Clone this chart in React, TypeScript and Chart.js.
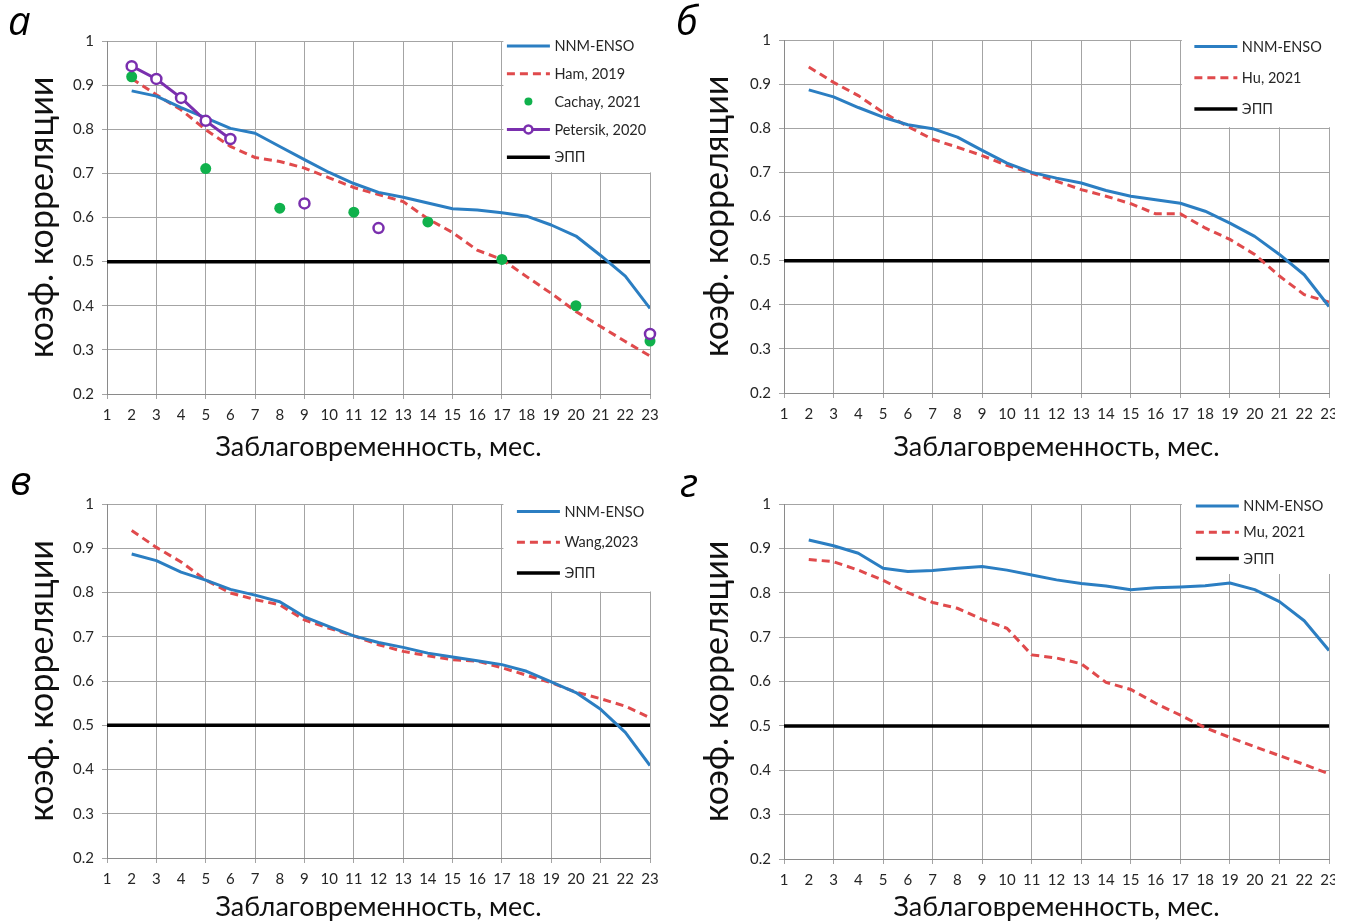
import React, { useEffect, useRef } from "react";
import { Chart, registerables } from "chart.js";

Chart.register(...registerables);

// ---------------- data ----------------
const LEADS = [2, 3, 4, 5, 6, 7, 8, 9, 10, 11, 12, 13, 14, 15, 16, 17, 18, 19, 20, 21, 22, 23];
const X_TICKS = [1, 2, 3, 4, 5, 6, 7, 8, 9, 10, 11, 12, 13, 14, 15, 16, 17, 18, 19, 20, 21, 22, 23];
const Y_TICKS = [0.2, 0.3, 0.4, 0.5, 0.6, 0.7, 0.8, 0.9, 1];
const EPP_LEADS = [1, 23];
const EPP_VALUES = [0.5, 0.5];

// panel а
const nnmEnsoA = [0.887, 0.875, 0.849, 0.826, 0.802, 0.791, 0.761, 0.731, 0.702, 0.677, 0.657, 0.646, 0.633, 0.62, 0.617, 0.611, 0.603, 0.583, 0.558, 0.514, 0.467, 0.394];
const ham2019 = [0.915, 0.878, 0.844, 0.799, 0.761, 0.736, 0.727, 0.712, 0.69, 0.668, 0.652, 0.636, 0.597, 0.566, 0.526, 0.505, 0.466, 0.428, 0.387, 0.353, 0.319, 0.286];
const cachay2021 = [0.919, null, null, 0.711, null, null, 0.621, null, null, 0.612, null, null, 0.59, null, null, 0.505, null, null, 0.4, null, null, 0.32];
const petersik2020 = [0.943, 0.914, 0.871, 0.819, 0.778, null, null, 0.632, null, null, 0.576, null, null, null, null, null, null, null, null, null, null, 0.336];

// panel б
const nnmEnsoB = [0.887, 0.871, 0.847, 0.825, 0.808, 0.799, 0.78, 0.75, 0.721, 0.7, 0.687, 0.676, 0.659, 0.646, 0.638, 0.63, 0.612, 0.585, 0.555, 0.514, 0.468, 0.396];
const hu2021 = [0.939, 0.904, 0.874, 0.836, 0.804, 0.775, 0.757, 0.738, 0.716, 0.698, 0.68, 0.661, 0.646, 0.629, 0.606, 0.606, 0.574, 0.548, 0.514, 0.465, 0.423, 0.406];

// panel в
const nnmEnsoV = [0.887, 0.872, 0.846, 0.828, 0.807, 0.794, 0.779, 0.745, 0.723, 0.702, 0.687, 0.676, 0.663, 0.654, 0.646, 0.637, 0.622, 0.598, 0.574, 0.536, 0.484, 0.409];
const wang2023 = [0.94, 0.902, 0.869, 0.828, 0.799, 0.784, 0.772, 0.738, 0.719, 0.702, 0.682, 0.667, 0.657, 0.648, 0.645, 0.63, 0.613, 0.596, 0.575, 0.56, 0.543, 0.517];

// panel г
const nnmEnsoG = [0.919, 0.906, 0.889, 0.855, 0.848, 0.85, 0.855, 0.859, 0.851, 0.84, 0.829, 0.821, 0.815, 0.807, 0.811, 0.813, 0.816, 0.822, 0.807, 0.78, 0.737, 0.67];
const mu2021 = [0.875, 0.87, 0.851, 0.828, 0.8, 0.778, 0.765, 0.74, 0.72, 0.66, 0.653, 0.64, 0.598, 0.582, 0.551, 0.524, 0.496, 0.474, 0.453, 0.433, 0.413, 0.392];

// ---------------- styling ----------------
const FONT = "Lato, 'Open Sans', sans-serif";
const TEXT = "#262626";
const GRID = "#a4a4a4";
const AXIS = "#8a8a8a";
const BLUE = "#2b7ec2";
const RED = "#e04a4c";
const GREEN = "#10b14c";
const PURPLE = "#7a2fae";

const pts = (xs: number[], ys: (number | null)[]) => xs.map((x, i) => ({ x, y: ys[i] }));

const nnmDs = (vals: number[]) => ({
  label: "NNM-ENSO",
  data: pts(LEADS, vals),
  borderColor: BLUE,
  backgroundColor: BLUE,
  borderWidth: 3,
  pointRadius: 0,
  tension: 0,
  borderJoinStyle: "round",
  order: 2,
});
const dashDs = (label: string, vals: number[]) => ({
  label,
  data: pts(LEADS, vals),
  borderColor: RED,
  backgroundColor: RED,
  borderWidth: 3,
  borderDash: [8, 5],
  pointRadius: 0,
  tension: 0,
  order: 3,
});
const eppDs = () => ({
  label: "ЭПП",
  data: pts(EPP_LEADS, EPP_VALUES),
  borderColor: "#000000",
  backgroundColor: "#000000",
  borderWidth: 3.5,
  pointRadius: 0,
  order: 5,
});

// legend drawn inside the top-right corner of the plot area
const cornerLegend = {
  id: "cornerLegend",
  beforeDatasetsDraw(chart: any, _args: any, opts: any) {
    const { ctx, chartArea, scales } = chart;
    const left = scales.x.getPixelForValue(opts.fromLead) + 1.5;
    const top = chartArea.top - 4;
    const bottom = scales.y.getPixelForValue(opts.toValue) - 1;
    ctx.save();
    ctx.fillStyle = "#ffffff";
    ctx.fillRect(left, top, chart.width - left, bottom - top);
    ctx.restore();
  },
  afterDatasetsDraw(chart: any, _args: any, opts: any) {
    const { ctx, chartArea, scales } = chart;
    const x0 = scales.x.getPixelForValue(opts.fromLead) + opts.inset;
    const len = 43;
    chart.data.datasets.forEach((ds: any, i: number) => {
      const y = chartArea.top + opts.firstRow + i * opts.rowGap;
      ctx.save();
      if (ds.showLine !== false) {
        ctx.strokeStyle = ds.borderColor;
        ctx.lineWidth = ds.borderWidth;
        ctx.setLineDash(ds.borderDash || []);
        ctx.beginPath();
        ctx.moveTo(x0, y);
        ctx.lineTo(x0 + len, y);
        ctx.stroke();
      }
      if (ds.pointRadius > 0) {
        ctx.setLineDash([]);
        ctx.beginPath();
        ctx.arc(x0 + len / 2, y, 4, 0, Math.PI * 2);
        ctx.fillStyle = ds.pointBackgroundColor;
        ctx.fill();
        if (ds.pointBorderWidth > 0) {
          ctx.lineWidth = ds.pointBorderWidth;
          ctx.strokeStyle = ds.pointBorderColor;
          ctx.stroke();
        }
      }
      ctx.fillStyle = TEXT;
      ctx.font = `14.5px ${FONT}`;
      ctx.textAlign = "left";
      ctx.textBaseline = "middle";
      ctx.fillText(ds.label, x0 + len + 4.5, y + 0.5);
      ctx.restore();
    });
  },
};

type PanelSpec = {
  key: string;
  letter: string;
  x: number;
  y: number;
  w: number;
  h: number;
  left: number;
  right: number;
  top: number;
  bottom: number;
  titleBottomPad: number;
  datasets: any[];
  legend: { fromLead: number; toValue: number; inset: number; firstRow: number; rowGap: number };
};

const PANELS: PanelSpec[] = [
  {
    key: "a",
    letter: "а",
    x: 0, y: 0, w: 675, h: 461,
    left: 107, right: 650, top: 41, bottom: 394,
    titleBottomPad: 0,
    datasets: [
      nnmDs(nnmEnsoA),
      dashDs("Ham, 2019", ham2019),
      {
        label: "Cachay, 2021",
        data: pts(LEADS, cachay2021),
        showLine: false,
        pointRadius: 5.5,
        pointBackgroundColor: GREEN,
        pointBorderColor: GREEN,
        pointBorderWidth: 0,
        borderColor: GREEN,
        backgroundColor: GREEN,
        clip: false,
        order: 1,
      },
      {
        label: "Petersik, 2020",
        data: pts(LEADS, petersik2020),
        borderColor: PURPLE,
        backgroundColor: PURPLE,
        borderWidth: 3,
        pointRadius: 5,
        pointBackgroundColor: "#ffffff",
        pointBorderColor: PURPLE,
        pointBorderWidth: 2.5,
        spanGaps: false,
        tension: 0,
        clip: false,
        order: 0,
      },
      eppDs(),
    ],
    legend: { fromLead: 17, toValue: 0.7, inset: 5, firstRow: 5, rowGap: 27.8 },
  },
  {
    key: "b",
    letter: "б",
    x: 675, y: 0, w: 660, h: 461,
    left: 109, right: 654, top: 40, bottom: 393,
    titleBottomPad: 0,
    datasets: [nnmDs(nnmEnsoB), dashDs("Hu, 2021", hu2021), eppDs()],
    legend: { fromLead: 17, toValue: 0.8, inset: 14, firstRow: 6.5, rowGap: 31.3 },
  },
  {
    key: "v",
    letter: "в",
    x: 0, y: 461, w: 675, h: 461,
    left: 107, right: 650, top: 43, bottom: 397,
    titleBottomPad: 1,
    datasets: [nnmDs(nnmEnsoV), dashDs("Wang,2023", wang2023), eppDs()],
    legend: { fromLead: 17, toValue: 0.8, inset: 15, firstRow: 7.5, rowGap: 30.8 },
  },
  {
    key: "g",
    letter: "г",
    x: 675, y: 461, w: 660, h: 461,
    left: 109, right: 654, top: 43, bottom: 398,
    titleBottomPad: 1,
    datasets: [nnmDs(nnmEnsoG), dashDs("Mu, 2021", mu2021), eppDs()],
    legend: { fromLead: 17, toValue: 0.84, inset: 15.5, firstRow: 2, rowGap: 26.2 },
  },
];

function buildConfig(p: PanelSpec): any {
  return {
    type: "line",
    data: { datasets: p.datasets },
    plugins: [cornerLegend],
    options: {
      animation: false,
      responsive: false,
      devicePixelRatio: 1,
      layout: { padding: { left: 0, top: p.top, right: p.w - p.right, bottom: 0 } },
      plugins: {
        legend: { display: false },
        tooltip: { enabled: false },
        cornerLegend: p.legend,
      },
      scales: {
        x: {
          type: "linear",
          min: 1,
          max: 23,
          afterBuildTicks: (s: any) => {
            s.ticks = X_TICKS.map((v) => ({ value: v }));
          },
          afterFit: (s: any) => {
            s.height = p.h - p.bottom;
            s.paddingLeft = 0;
            s.paddingRight = 0;
          },
          ticks: {
            autoSkip: false,
            maxRotation: 0,
            minRotation: 0,
            padding: 7,
            color: TEXT,
            font: { family: FONT, size: 15 },
            callback: (v: any) => String(v),
          },
          grid: {
            color: (c: any) => (c.tick && c.tick.value % 2 === 1 ? GRID : "rgba(0,0,0,0)"),
            lineWidth: 1,
            tickLength: 5,
          },
          border: { color: AXIS, width: 1 },
          title: {
            display: true,
            text: "Заблаговременность, мес.",
            color: "#111111",
            font: { family: FONT, size: 27, lineHeight: 1 },
            padding: { top: 0, bottom: p.titleBottomPad },
          },
        },
        y: {
          type: "linear",
          min: 0.2,
          max: 1,
          afterBuildTicks: (s: any) => {
            s.ticks = Y_TICKS.map((v) => ({ value: v }));
          },
          afterFit: (s: any) => {
            s.width = p.left;
          },
          ticks: {
            padding: 8,
            color: TEXT,
            font: { family: FONT, size: 15 },
            callback: (v: any) => String(Number(Number(v).toFixed(1))),
          },
          grid: { color: GRID, lineWidth: 1, tickLength: 5 },
          border: { color: AXIS, width: 1 },
          title: {
            display: true,
            text: "коэф. корреляции",
            color: "#111111",
            font: { family: FONT, size: 34, lineHeight: 1.2 },
            padding: { top: 22, bottom: 0 },
          },
        },
      },
    },
  };
}

function ChartPanel({ spec }: { spec: PanelSpec }) {
  const ref = useRef<HTMLCanvasElement | null>(null);
  useEffect(() => {
    const chart = new Chart(ref.current as HTMLCanvasElement, buildConfig(spec));
    return () => chart.destroy();
  }, [spec]);
  return (
    <div style={{ position: "absolute", left: spec.x, top: spec.y, width: spec.w, height: spec.h, overflow: "hidden" }}>
      <canvas ref={ref} width={spec.w} height={spec.h} style={{ width: spec.w, height: spec.h, display: "block" }} />
    </div>
  );
}

const LETTER_POS: Record<string, { left: number; top: number }> = {
  a: { left: 8, top: -4 },
  b: { left: 676, top: -4 },
  v: { left: 10, top: 456 },
  g: { left: 680, top: 458 },
};

export default function App() {
  return (
    <div style={{ position: "absolute", left: 0, top: 0, width: 1349, height: 922, background: "#ffffff", overflow: "hidden" }}>
      {PANELS.map((p) => (
        <ChartPanel key={p.key} spec={p} />
      ))}
      {PANELS.map((p) => (
        <div
          key={"l" + p.key}
          style={{
            position: "absolute",
            left: LETTER_POS[p.key].left,
            top: LETTER_POS[p.key].top,
            fontFamily: "'Open Sans', sans-serif",
            fontStyle: "italic",
            fontSize: 40,
            lineHeight: "48px",
            color: "#000",
          }}
        >
          {p.letter}
        </div>
      ))}
    </div>
  );
}
